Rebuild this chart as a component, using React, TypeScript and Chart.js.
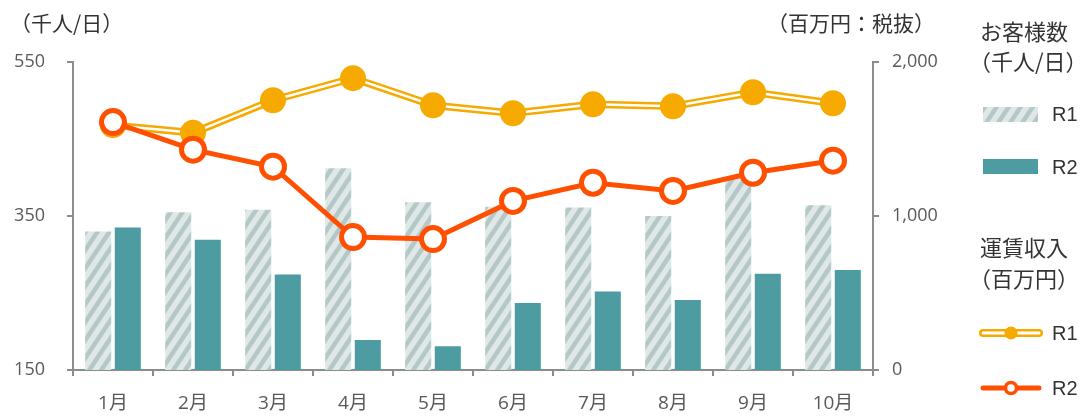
import React, { useEffect, useRef } from "react";
import { Chart, registerables } from "chart.js";

Chart.register(...registerables);

const categories = ["1月", "2月", "3月", "4月", "5月", "6月", "7月", "8月", "9月", "10月"];
const visitorsR1 = [330, 355, 358, 412, 368, 362, 361, 350, 399, 364];
const visitorsR2 = [335, 319, 274, 189, 181, 237, 252, 241, 275, 280];
const revenueR1 = [1590, 1540, 1752, 1895, 1719, 1667, 1725, 1712, 1804, 1732];
const revenueR2 = [1610, 1431, 1320, 863, 850, 1098, 1216, 1163, 1281, 1359];
const leftTicks = [150, 350, 550];
const rightTicks = [0, 1000, 2000];

const TEAL = "#4c9ca1";
const ORANGE = "#f6aa00";
const RED = "#fe5000";
const AXIS = "#8c8c8c";
const TICK_TEXT = "#595959";
const TEXT = "#333333";
const NUM_FONT = "'Open Sans', 'Noto Sans CJK JP', sans-serif";
const JP_FONT = "'Noto Sans CJK JP', sans-serif";
const LEG_FONT = "'Liberation Sans', Arial, sans-serif";

function makeHatch(): CanvasPattern | string {
  const c = document.createElement("canvas");
  const w = 12;
  const h = 18;
  c.width = w;
  c.height = h;
  const g = c.getContext("2d");
  if (!g) return "#dfe7e6";
  g.fillStyle = "#e0e8e7";
  g.fillRect(0, 0, w, h);
  g.strokeStyle = "#b4c8c8";
  g.lineWidth = 4.5;
  g.beginPath();
  for (let k = -1; k <= 1; k++) {
    g.moveTo(k * w - w * 0.5, h * 1.5);
    g.lineTo(k * w + w * 1.5, -h * 0.5);
  }
  g.stroke();
  const p = g.createPattern(c, "repeat");
  return p || "#dfe7e6";
}

export default function App() {
  const ref = useRef<HTMLCanvasElement | null>(null);

  useEffect(() => {
    document.body.style.margin = "0";
    const canvas = ref.current;
    if (!canvas) return;
    const hatch = makeHatch();

    const overlay = {
      id: "overlay",
      afterDraw(chart: any) {
        const ctx = chart.ctx as CanvasRenderingContext2D;
        ctx.save();
        ctx.fillStyle = TEXT;
        ctx.textBaseline = "middle";
        ctx.textAlign = "left";
        ctx.font = `21px ${JP_FONT}`;
        ctx.fillText("（千人/日）", 10, 23);
        ctx.fillText("（百万円：税抜）", 767, 23);

        // legend
        ctx.font = `22px ${JP_FONT}`;
        ctx.fillText("お客様数", 980, 32);
        ctx.fillText("（千人/日）", 969, 62);
        ctx.fillText("運賃収入", 980, 248);
        ctx.fillText("（百万円）", 969, 279);

        ctx.fillStyle = hatch as any;
        ctx.fillRect(983, 107, 55, 15);
        ctx.fillStyle = TEAL;
        ctx.fillRect(983, 159, 55, 15);

        // R1 line legend
        ctx.lineCap = "round";
        ctx.strokeStyle = ORANGE;
        ctx.lineWidth = 8;
        ctx.beginPath();
        ctx.moveTo(983, 333);
        ctx.lineTo(1039, 333);
        ctx.stroke();
        ctx.strokeStyle = "#ffffff";
        ctx.lineWidth = 3;
        ctx.beginPath();
        ctx.moveTo(983, 333);
        ctx.lineTo(1039, 333);
        ctx.stroke();
        ctx.fillStyle = ORANGE;
        ctx.beginPath();
        ctx.arc(1011, 333, 6.5, 0, Math.PI * 2);
        ctx.fill();

        // R2 line legend
        ctx.strokeStyle = RED;
        ctx.lineWidth = 5;
        ctx.beginPath();
        ctx.moveTo(983, 388);
        ctx.lineTo(1039, 388);
        ctx.stroke();
        ctx.fillStyle = "#ffffff";
        ctx.lineWidth = 3.5;
        ctx.beginPath();
        ctx.arc(1011, 388, 5.5, 0, Math.PI * 2);
        ctx.fill();
        ctx.stroke();

        ctx.fillStyle = TEXT;
        ctx.font = `20px ${LEG_FONT}`;
        ctx.fillText("R1", 1052, 115);
        ctx.fillText("R2", 1052, 168);
        ctx.fillText("R1", 1052, 334);
        ctx.fillText("R2", 1052, 389);
        ctx.restore();
      },
    };

    const axisGrid = {
      drawOnChartArea: false,
      drawTicks: true,
      tickLength: 6,
      color: AXIS,
      lineWidth: 2,
    };

    const chart = new Chart(canvas, {
      type: "bar",
      data: {
        labels: categories,
        datasets: [
          {
            type: "line",
            label: "R2 line",
            data: revenueR2,
            yAxisID: "y1",
            borderColor: RED,
            borderWidth: 5,
            pointRadius: 11.5,
            pointBackgroundColor: "#ffffff",
            pointBorderColor: RED,
            pointBorderWidth: 5,
            order: 0,
          } as any,
          {
            type: "line",
            label: "R1 points",
            data: revenueR1,
            yAxisID: "y1",
            showLine: false,
            pointRadius: 13,
            pointBackgroundColor: ORANGE,
            pointBorderWidth: 0,
            order: 1,
          } as any,
          {
            type: "line",
            label: "R1 inner",
            data: revenueR1,
            yAxisID: "y1",
            borderColor: "#ffffff",
            borderWidth: 2.5,
            pointRadius: 0,
            order: 2,
          } as any,
          {
            type: "line",
            label: "R1 outer",
            data: revenueR1,
            yAxisID: "y1",
            borderColor: ORANGE,
            borderWidth: 7.5,
            pointRadius: 0,
            order: 3,
          } as any,
          {
            type: "bar",
            label: "R1",
            data: visitorsR1,
            yAxisID: "y",
            backgroundColor: hatch as any,
            categoryPercentage: 0.74,
            barPercentage: 0.88,
            order: 5,
          },
          {
            type: "bar",
            label: "R2",
            data: visitorsR2,
            yAxisID: "y",
            backgroundColor: TEAL,
            categoryPercentage: 0.74,
            barPercentage: 0.88,
            order: 5,
          },
        ],
      },
      options: {
        responsive: false,
        animation: false,
        layout: { padding: { top: 62, left: 0, right: 0, bottom: 0 } },
        plugins: {
          legend: { display: false },
          tooltip: { enabled: false },
          title: { display: false },
        },
        scales: {
          x: {
            offset: true,
            grid: { ...axisGrid, offset: true },
            border: { display: true, color: AXIS, width: 2 },
            ticks: {
              color: TICK_TEXT,
              font: { family: NUM_FONT, size: 19 },
              padding: 16,
              maxRotation: 0,
            },
            afterFit(scale: any) {
              scale.height = 49;
            },
          },
          y: {
            position: "left",
            min: 150,
            max: 550,
            afterBuildTicks(scale: any) {
              scale.ticks = leftTicks.map((v) => ({ value: v }));
            },
            grid: axisGrid,
            border: { display: true, color: AXIS, width: 2 },
            ticks: {
              color: TICK_TEXT,
              font: { family: NUM_FONT, size: 18 },
              padding: 22,
            },
            afterFit(scale: any) {
              scale.width = 73;
            },
          },
          y1: {
            position: "right",
            min: 0,
            max: 2000,
            afterBuildTicks(scale: any) {
              scale.ticks = rightTicks.map((v) => ({ value: v }));
            },
            grid: axisGrid,
            border: { display: true, color: AXIS, width: 2 },
            ticks: {
              color: TICK_TEXT,
              font: { family: NUM_FONT, size: 18 },
              padding: 13,
              callback: (v: any) => Number(v).toLocaleString("en-US"),
            },
            afterFit(scale: any) {
              scale.width = 216;
            },
          },
        },
      },
      plugins: [overlay],
    });

    return () => {
      chart.destroy();
    };
  }, []);

  return (
    <div style={{ width: 1089, height: 419 }}>
      <canvas ref={ref} width={1089} height={419} style={{ display: "block" }} />
    </div>
  );
}
